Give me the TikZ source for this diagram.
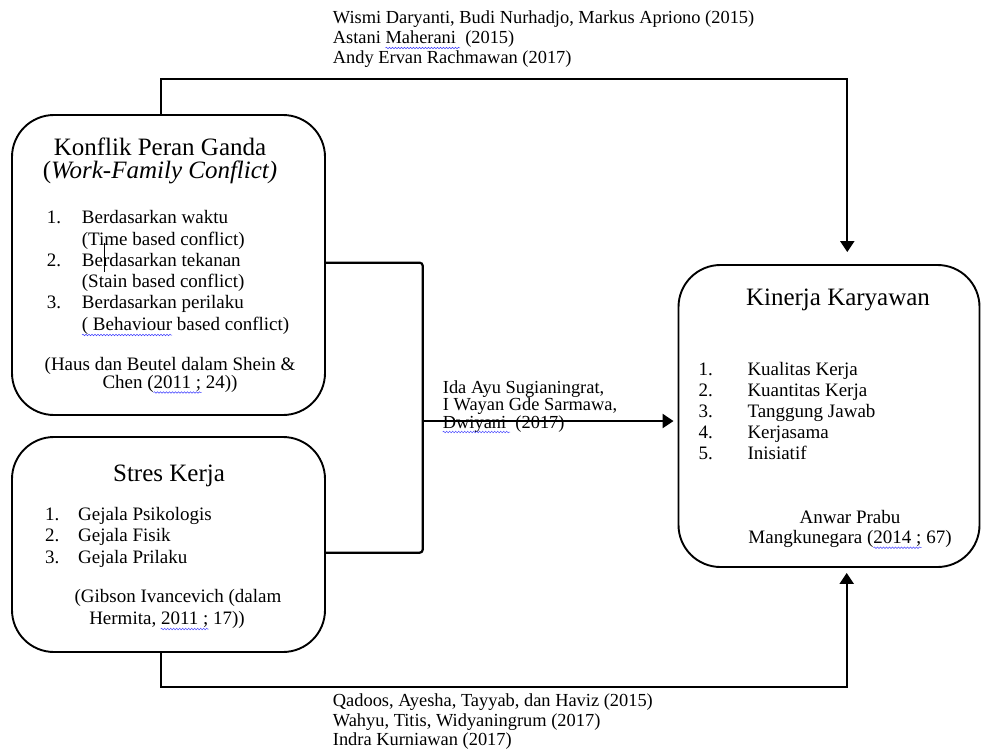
\documentclass[tikz,border=0pt]{standalone}
\usepackage{fontspec}
\setmainfont{Liberation Serif}
\usetikzlibrary{arrows.meta,decorations.pathmorphing}
\begin{document}
\begin{tikzpicture}[x=1pt,y=-1pt,
  box/.style={draw, line width=1.9pt, rounded corners=42pt, inner sep=0pt},
  conn/.style={line width=2.2pt},
  tip/.style={-{Triangle[length=11pt,width=14pt]}},
  ttl/.style={font=\fontsize{25}{28}\selectfont, inner sep=0pt, anchor=base},
  txt/.style={font=\fontsize{19}{21}\selectfont, inner sep=0pt, anchor=base west},
  ctr/.style={font=\fontsize{19}{21}\selectfont, inner sep=0pt, anchor=base},
  lbl/.style={font=\fontsize{18.4}{20}\selectfont, inner sep=0pt, anchor=base west},
  wavy/.style={draw=blue!75, line width=0.5pt, decorate, decoration={snake, amplitude=0.8pt, segment length=3pt}}]

\useasboundingbox (0,0) rectangle (981,749);

% ---------- boxes ----------
\node[box, minimum width=313pt, minimum height=300pt] (konflik) at (168.5,265) {};
\node[box, minimum width=313pt, minimum height=215pt] (stres)   at (168.5,544.5) {};
\node[box, minimum width=301pt, minimum height=302pt] (kinerja) at (829,416) {};

% ---------- box 1 text ----------
\node[ttl] (k-t) at (160,155) {Konflik Peran Ganda};
\node[ttl] (k-s) at (160,178) {(\textit{Work-Family Conflict)}};
\node[txt] (k-n1) at (46.7,223.3) {1.};
\node[txt] (k-n2) at (46.7,266.7) {2.};
\node[txt] (k-n3) at (46.7,308.5) {3.};
\node[txt] (k-l1) at (81.7,223.3) {Berdasarkan waktu};
\node[txt] (k-l2) at (81.7,245)   {(Time based conflict)};
\node[txt] (k-l3) at (81.7,266.7) {Berdasarkan tekanan};
\node[txt] (k-l4) at (81.7,287.5) {(Stain based conflict)};
\node[txt] (k-l5) at (81.7,308.5) {Berdasarkan perilaku};
\node[txt] (k-l6) at (81.7,330)   {( Behaviour based conflict)};
\node[ctr] (k-c1) at (170,370)   {(Haus dan Beutel dalam Shein \&};
\node[ctr] (k-c2) at (170,388.5) {Chen (2011 ; 24))};
\draw[line width=0.7pt] (104,243) -- (104,271.5);

% ---------- box 2 text ----------
\node[ttl] (s-t) at (169,481.7) {Stres Kerja};
\node[txt] (s-n1) at (45,520)   {1.};
\node[txt] (s-n2) at (45,541.7) {2.};
\node[txt] (s-n3) at (45,563.3) {3.};
\node[txt] (s-l1) at (78,520)   {Gejala Psikologis};
\node[txt] (s-l2) at (78,541.7) {Gejala Fisik};
\node[txt] (s-l3) at (78,563.3) {Gejala Prilaku};
\node[ctr] (s-c1) at (178,602)  {(Gibson Ivancevich (dalam};
\node[ctr] (s-c2) at (167,624)  {Hermita, 2011 ; 17))};

% ---------- box 3 text ----------
\node[ttl] (r-t) at (838,305) {Kinerja Karyawan};
\node[txt] (r-n1) at (698.3,375)   {1.};
\node[txt] (r-n2) at (698.3,396.7) {2.};
\node[txt] (r-n3) at (698.3,417.7) {3.};
\node[txt] (r-n4) at (698.3,438.3) {4.};
\node[txt] (r-n5) at (698.3,459.3) {5.};
\node[txt] (r-l1) at (747.3,375)   {Kualitas Kerja};
\node[txt] (r-l2) at (747.3,396.7) {Kuantitas Kerja};
\node[txt] (r-l3) at (747.3,417.7) {Tanggung Jawab};
\node[txt] (r-l4) at (747.3,438.3) {Kerjasama};
\node[txt] (r-l5) at (747.3,459.3) {Inisiatif};
\node[ctr] (r-c1) at (850,523.3) {Anwar Prabu};
\node[ctr] (r-c2) at (850,543.3) {Mangkunegara (2014 ; 67)};

% ---------- connector labels ----------
\node[lbl] (top1) at (332.7,24)   {Wismi Daryanti, Budi Nurhadjo, Markus Apriono (2015)};
\node[lbl] (top2) at (332.7,44)   {Astani Maherani\ \ (2015)};
\node[lbl] (top3) at (332.7,63.3) {Andy Ervan Rachmawan (2017)};
\node[lbl] (mid1) at (442.7,393.3) {Ida Ayu Sugianingrat,};
\node[lbl] (mid2) at (442.7,410.7) {I Wayan Gde Sarmawa,};
\node[lbl] (mid3) at (442.7,428.3) {Dwiyani\ \ (2017)};
\node[lbl] (bot1) at (332.7,706.7) {Qadoos, Ayesha, Tayyab, dan Haviz (2015)};
\node[lbl] (bot2) at (332.7,726.7) {Wahyu, Titis, Widyaningrum (2017)};
\node[lbl] (bot3) at (332.7,745)   {Indra Kurniawan (2017)};

% ---------- connectors ----------
\coordinate (topL) at (160.7,79.3);
\coordinate (topR) at (847.3,79.3);
\draw[conn, tip, shorten >=12pt] (konflik.north -| topL) -- (topL) -- (topR) -- (kinerja.north -| topR);

\coordinate (botL) at (160.7,686.7);
\coordinate (botR) at (846.7,686.7);
\draw[conn, tip, shorten >=5pt] (stres.south -| botL) -- (botL) -- (botR) -- (kinerja.south -| botR);

\coordinate (brT) at (422.7,262.7);
\coordinate (brB) at (422.7,552.7);
\coordinate (brM) at (422.7,421);
\draw[conn, rounded corners=3pt] (konflik.east |- brT) -- (brT) -- (brB) -- (stres.east |- brB);
\draw[conn, tip, shorten >=4pt] (brM) -- (kinerja.west |- brM);

% ---------- spell-check underlines ----------
\draw[wavy] (82,335) -- (172,335);
\draw[wavy] (153.5,392.5) -- (201.5,392.5);
\draw[wavy] (160.7,629) -- (208.7,629);
\draw[wavy] (873.5,547.7) -- (921.5,547.7);
\draw[wavy] (385.5,48) -- (460,48);
\draw[wavy] (442.7,432) -- (510,432);
\end{tikzpicture}
\end{document}
